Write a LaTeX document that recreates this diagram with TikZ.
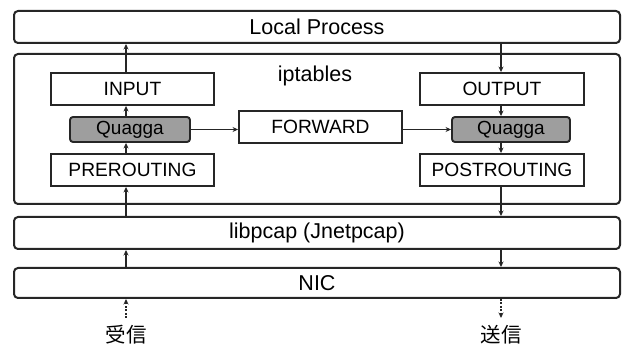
\documentclass[tikz,border=0pt]{standalone}
\usepackage{fontspec}
\setmainfont{Liberation Sans}
\newfontfamily\cjk{Noto Sans CJK JP}
\usetikzlibrary{arrows.meta}
\begin{document}
\begin{tikzpicture}[x=1pt,y=-1pt,
  lay/.style={draw=black!85,line width=2pt,rounded corners=4pt,inner sep=0pt,font=\fontsize{21.5}{22}\selectfont},
  chain/.style={draw=black!85,line width=1.9pt,inner sep=0pt,font=\fontsize{19.2}{20}\selectfont},
  qg/.style={draw=black!85,line width=1.9pt,rounded corners=3pt,fill=black!38,inner sep=0pt,font=\fontsize{19}{20}\selectfont},
  arr/.style={line width=1.7pt,draw=black!85,-{Stealth[length=5.5pt,width=5pt]}},
  darr/.style={arr,dash pattern=on 1.8pt off 1.6pt}]
\useasboundingbox (0,0) rectangle (624,347);
\node[lay,minimum width=606pt,minimum height=32pt] (lp) at (317,27) {Local Process};
\node[lay,minimum width=606pt,minimum height=150pt] (ipt) at (317,129) {};
\node[font=\fontsize{21.5}{22}\selectfont,inner sep=0pt] (iptl) at (315,76) {iptables};
\node[chain,minimum width=163pt,minimum height=32pt] (input) at (132.5,89) {INPUT};
\node[qg,minimum width=120pt,minimum height=25pt] (ql) at (130,129.5) {Quagga};
\node[chain,minimum width=163pt,minimum height=32pt] (pre) at (132.5,170) {PREROUTING};
\node[chain,minimum width=163pt,minimum height=32pt] (fwd) at (320.5,127) {FORWARD};
\node[chain,minimum width=164pt,minimum height=32pt] (output) at (502,89) {OUTPUT};
\node[qg,minimum width=118pt,minimum height=25pt] (qr) at (511,129.5) {Quagga};
\node[chain,minimum width=164pt,minimum height=32pt] (post) at (502,170) {POSTROUTING};
\node[lay,minimum width=606pt,minimum height=32pt] (pcap) at (317,233) {libpcap (Jnetpcap)};
\node[lay,minimum width=606pt,minimum height=30pt] (nic) at (317,283) {NIC};
\node[font=\cjk\fontsize{20.5}{21}\selectfont,inner sep=0pt] (rx) at (126,335) {受信};
\node[font=\cjk\fontsize{20.5}{21}\selectfont,inner sep=0pt] (tx) at (501,335) {送信};
\coordinate (xl) at (126,0);
\coordinate (xr) at (501,0);
\coordinate (rxt) at (126,318);
\coordinate (txt) at (501,318);
% left (receive) path
\draw[darr] (rxt) -- (nic.south -| xl);
\draw[arr] (nic.north -| xl) -- (pcap.south -| xl);
\draw[arr] (pcap.north -| xl) -- (pre.south -| xl);
\draw[arr] (pre.north -| xl) -- (ql.south -| xl);
\draw[arr] (ql.north -| xl) -- (input.south -| xl);
\draw[arr] (input.north -| xl) -- (lp.south -| xl);
% forward
\draw[arr] (ql.east) -- (ql.east -| fwd.west);
\draw[arr] (fwd.east |- qr.west) -- (qr.west);
% right (send) path
\draw[arr] (lp.south -| xr) -- (output.north -| xr);
\draw[arr] (output.south -| xr) -- (qr.north -| xr);
\draw[arr] (qr.south -| xr) -- (post.north -| xr);
\draw[arr] (post.south -| xr) -- (pcap.north -| xr);
\draw[arr] (pcap.south -| xr) -- (nic.north -| xr);
\draw[darr] (nic.south -| xr) -- (txt);
\end{tikzpicture}
\end{document}
